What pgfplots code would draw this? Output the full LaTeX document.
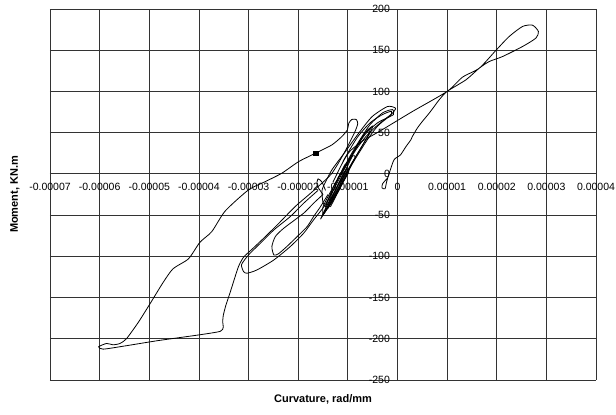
\documentclass[border=0pt]{standalone}
\usepackage{pgfplots}
\pgfplotsset{compat=1.18}
\usepackage{fontspec}
\setmainfont{Liberation Sans}
\begin{document}
\begin{tikzpicture}
\begin{axis}[
  scale only axis, width=546pt, height=371pt,
  xmin=-7e-5, xmax=4e-5, ymin=-250, ymax=200,
  axis lines=middle,
  axis line style={-, black!80, line width=0.8pt},
  hide obscured x ticks=false, hide obscured y ticks=false,
  xtick={-7e-5,-6e-5,-5e-5,-4e-5,-3e-5,-2e-5,-1e-5,0,1e-5,2e-5,3e-5,4e-5},
  xticklabels={-0.00007,-0.00006,-0.00005,-0.00004,-0.00003,-0.00002,-0.00001,0,0.00001,0.00002,0.00003,0.00004},
  ytick={-250,-200,-150,-100,-50,0,50,100,150,200},
  yticklabels={-250,-200,-150,-100,-50,0,50,100,150,200},
  scaled x ticks=false,
  grid=major, grid style={black!80, line width=0.8pt},
  major tick length=4pt, tick style={black!80, line width=0.8pt},
  tick align=outside,
  ticklabel style={font=\fontsize{10.5}{12}\selectfont},
  xticklabel style={yshift=-2pt},
  xlabel={Curvature, rad/mm},
  ylabel={Moment, KN.m},
  every axis x label/.style={at={(axis description cs:0.5,0)}, anchor=north, yshift=-11pt, font=\fontsize{11}{13}\selectfont\bfseries},
  every axis y label/.style={at={(axis description cs:0,0.5)}, xshift=-35pt, rotate=90, anchor=center, font=\fontsize{11}{13}\selectfont\bfseries},
  clip=false,
  hyst/.style={black, mark=none, line width=0.8pt, smooth, tension=0.4},
]
% outer loop
\addplot[hyst] coordinates {(-1.20e-5,12) (-1.32e-5,0.8) (-1.45e-5,-7.3) (-1.75e-5,-23.5) (-2.06e-5,-39.6) (-2.39e-5,-59.9) (-2.66e-5,-76) (-2.93e-5,-91.4) (-3.10e-5,-101) (-3.20e-5,-112) (-3.27e-5,-124.6) (-3.34e-5,-138) (-3.41e-5,-151) (-3.46e-5,-160) (-3.51e-5,-172) (-3.52e-5,-180) (-3.51e-5,-186) (-3.57e-5,-191) (-4.01e-5,-195.4) (-4.82e-5,-202.2) (-5.49e-5,-208.7) (-5.93e-5,-212.6) (-6.02e-5,-209.7) (-5.86e-5,-205.7) (-5.73e-5,-207.3) (-5.59e-5,-205.7) (-5.46e-5,-200) (-5.22e-5,-180) (-4.99e-5,-158) (-4.72e-5,-131.6) (-4.52e-5,-115) (-4.21e-5,-103) (-3.98e-5,-83) (-3.74e-5,-70) (-3.47e-5,-45) (-3.0e-5,-19.4) (-2.66e-5,-9.3) (-2.33e-5,0.8) (-1.99e-5,14.9) (-1.65e-5,25.1) (-1.32e-5,35.2) (-1.12e-5,45.3) (-1.01e-5,53.4) (-0.98e-5,61.5) (-0.92e-5,66) (-0.83e-5,66) (-0.80e-5,61) (-0.85e-5,52) (-0.94e-5,41) (-1.05e-5,28) (-1.20e-5,12)};
% loop A
\addplot[hyst] coordinates {(-1.60e-5,-20) (-1.89e-5,-35.6) (-2.16e-5,-51.8) (-2.49e-5,-68) (-2.76e-5,-84) (-3.00e-5,-98.3) (-3.14e-5,-110) (-3.10e-5,-118.5) (-3.03e-5,-120.5) (-2.83e-5,-116.5) (-2.49e-5,-104.4) (-2.16e-5,-88.2) (-1.89e-5,-72) (-1.69e-5,-55.8) (-1.48e-5,-39.7) (-1.30e-5,-20)};
% loop B
\addplot[hyst] coordinates {(-1.50e-5,-25) (-1.69e-5,-35.6) (-1.89e-5,-47.7) (-2.29e-5,-65.9) (-2.46e-5,-76) (-2.53e-5,-88.2) (-2.49e-5,-98.3) (-2.40e-5,-97) (-2.23e-5,-88.2) (-2.02e-5,-76) (-1.82e-5,-64) (-1.69e-5,-51.8) (-1.55e-5,-39.7) (-1.40e-5,-25)};
% right branch and figure eight
\addplot[hyst] coordinates {(-0.20e-5,-5) (-0.30e-5,-12) (-0.31e-5,-17) (-0.25e-5,-18) (-0.22e-5,-10) (-0.17e-5,0) (-0.07e-5,17) (0.06e-5,23) (0.17e-5,33) (0.27e-5,41.3) (0.30e-5,45.3) (0.40e-5,55.5) (0.50e-5,63.5) (0.64e-5,73.7) (0.74e-5,81.7) (0.84e-5,89.8) (1.00e-5,100) (1.38e-5,114.1) (1.65e-5,128.3) (1.85e-5,136.3) (2.12e-5,142.4) (2.52e-5,154.5) (2.79e-5,164.7) (2.84e-5,172.7) (2.72e-5,180.4) (2.52e-5,178.8) (2.25e-5,166.6) (1.98e-5,149.6) (1.65e-5,128.3) (1.31e-5,117.3) (1.00e-5,100) (0.30e-5,75.6) (-0.37e-5,51.3) (-0.70e-5,40) (-0.95e-5,28) (-1.10e-5,15)};
% band loops
\addplot[hyst] coordinates {(-1.45e-5,-40) (-1.32e-5,-20) (-1.15e-5,0) (-0.98e-5,15) (-0.84e-5,29) (-0.64e-5,45) (-0.44e-5,57) (-0.27e-5,65.5) (-0.10e-5,73.7) (-0.04e-5,79.7) (-0.20e-5,81.7) (-0.51e-5,69.5) (-0.78e-5,49.4) (-1.05e-5,27) (-1.32e-5,5) (-1.45e-5,-10) (-1.52e-5,-20) (-1.50e-5,-35) (-1.45e-5,-40)};
\addplot[hyst] coordinates {(-1.50e-5,-50) (-1.30e-5,-32) (-1.10e-5,-10) (-0.95e-5,8) (-0.78e-5,25) (-0.60e-5,42) (-0.40e-5,58) (-0.20e-5,68) (-0.08e-5,72) (-0.10e-5,78) (-0.30e-5,74) (-0.55e-5,60) (-0.75e-5,42) (-0.95e-5,22) (-1.15e-5,0) (-1.35e-5,-22) (-1.50e-5,-40) (-1.50e-5,-50)};
\addplot[hyst] coordinates {(-1.45e-5,-45) (-1.25e-5,-25) (-1.05e-5,-3) (-0.90e-5,15) (-0.70e-5,35) (-0.55e-5,50) (-0.50e-5,58) (-0.65e-5,50) (-0.85e-5,30) (-1.05e-5,8) (-1.25e-5,-15) (-1.42e-5,-35) (-1.45e-5,-45)};
\addplot[hyst] coordinates {(-1.40e-5,-42) (-1.20e-5,-22) (-1.05e-5,-5) (-0.95e-5,8) (-0.85e-5,20) (-0.90e-5,22) (-1.02e-5,8) (-1.15e-5,-8) (-1.30e-5,-25) (-1.42e-5,-38)};
\addplot[hyst] coordinates {(-1.38e-5,-38) (-1.20e-5,-18) (-1.08e-5,-2) (-1.00e-5,10) (-1.05e-5,12) (-1.15e-5,0) (-1.28e-5,-18) (-1.38e-5,-33)};
\addplot[hyst] coordinates {(-1.35e-5,-40) (-1.18e-5,-20) (-1.10e-5,-10) (-1.12e-5,-5) (-1.25e-5,-20) (-1.35e-5,-35)};
\addplot[hyst] coordinates {(-1.20e-5,-5) (-1.00e-5,15) (-0.80e-5,35) (-0.65e-5,50) (-0.55e-5,55) (-0.58e-5,48) (-0.75e-5,30) (-0.95e-5,10) (-1.15e-5,-10)};
\addplot[hyst] coordinates {(-1.30e-5,-10) (-1.05e-5,20) (-0.80e-5,45) (-0.55e-5,62) (-0.30e-5,72) (-0.12e-5,76) (-0.15e-5,70) (-0.40e-5,62) (-0.65e-5,48) (-0.90e-5,25) (-1.15e-5,-2)};
\addplot[hyst] coordinates {(-1.55e-5,-55) (-1.35e-5,-35) (-1.15e-5,-12) (-1.00e-5,5) (-1.08e-5,2) (-1.25e-5,-20) (-1.45e-5,-42) (-1.55e-5,-55)};
\addplot[hyst] coordinates {(-1.48e-5,-48) (-1.28e-5,-30) (-1.12e-5,-12) (-0.98e-5,2) (-1.02e-5,6) (-1.20e-5,-14) (-1.38e-5,-36) (-1.48e-5,-48)};
\addplot[hyst] coordinates {(-1.50e-5,-25) (-1.62e-5,-14) (-1.60e-5,-6) (-1.52e-5,-10) (-1.45e-5,-20)};
% marker
\addplot[only marks, mark=square*, mark size=2.3pt, black] coordinates {(-1.65e-5,25.1)};
\end{axis}
\pgfresetboundingbox
\path[use as bounding box] ([xshift=-50pt,yshift=-35pt]current axis.south west) rectangle ([xshift=20pt,yshift=9pt]current axis.north east);
\end{tikzpicture}
\end{document}
